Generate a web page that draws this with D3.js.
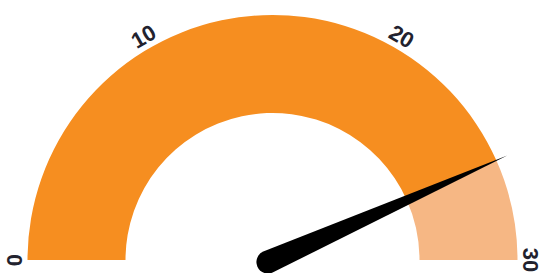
<!DOCTYPE html>
<html>
<head>
<meta charset="utf-8">
<script src="https://cdn.jsdelivr.net/npm/d3@7"></script>
<style>
  body { margin: 0; background: #fff; }
  svg { display: block; }
</style>
</head>
<body>
<script>
// gauge data
const gaugeMin = 0
const gaugeMax = 30
const gaugeValue = 26
const tickValues = [0, 10, 20, 30]

const m = {
    width: 540,
    height: 273,
    cx: 272.5,
    cy: 260,
    outer: 245,
    inner: 147
}

const svg = d3.select("body").append('svg')
    .attr('width', m.width)
    .attr('height', m.height)

const g = svg.append('g')
    .attr('transform', `translate(${m.cx},${m.cy})`)

const angle = d3.scaleLinear()
    .domain([gaugeMin, gaugeMax])
    .range([-Math.PI / 2, Math.PI / 2])

const arc = d3.arc()
    .innerRadius(m.inner)
    .outerRadius(m.outer)

// filled part and the remainder
const bands = [
    {from: gaugeMin, to: gaugeValue, color: '#f68e20'},
    {from: gaugeValue, to: gaugeMax, color: '#f6b784'}
]

g.selectAll('.band')
    .data(bands)
    .enter()
    .append('path')
        .attr('class', 'band')
        .attr('fill', d => d.color)
        .attr('d', d => arc({startAngle: angle(d.from), endAngle: angle(d.to)}))

// tick labels round the outside
const labelR = 258
g.selectAll('.tick')
    .data(tickValues)
    .enter()
    .append('text')
        .attr('class', 'tick')
        .attr('transform', function(d) {
            const a = angle(d)
            const x = labelR * Math.sin(a)
            const y = -labelR * Math.cos(a)
            return `translate(${x},${y}) rotate(${a * 180 / Math.PI})`
        })
        .attr('text-anchor', 'middle')
        .attr('dominant-baseline', 'central')
        .attr('font-family', 'Liberation Sans, Arial, sans-serif')
        .attr('font-weight', 'bold')
        .attr('font-size', 22)
        .attr('fill', '#22222e')
        .text(d => d)

// needle
const needleLen = 257
const baseHalf = 11.5
const needle = g.append('path')
    .attr('fill', '#000')
    .attr('d', `M${needleLen},0 L-5,${-baseHalf} A${baseHalf},${baseHalf} 0 0 0 -5,${baseHalf} Z`)
    .attr('transform', `rotate(${angle(gaugeValue) * 180 / Math.PI - 90})`)
</script>
</body>
</html>
